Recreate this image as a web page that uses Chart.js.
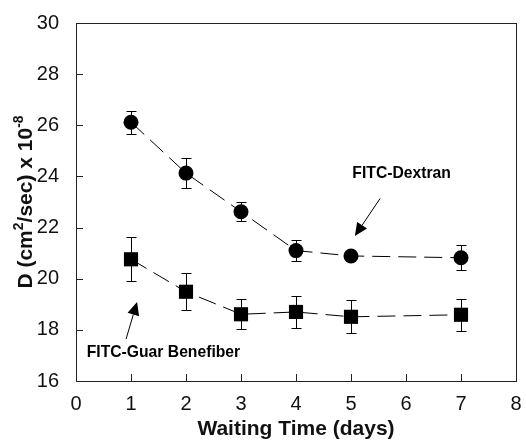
<!DOCTYPE html>
<html>
<head>
<meta charset="utf-8">
<script src="https://cdn.jsdelivr.net/npm/chart.js@4/dist/chart.umd.min.js"></script>
<style>
  html, body { margin: 0; padding: 0; background: #fff; }
  #wrap { width: 526px; height: 440px; }
</style>
</head>
<body>
<div id="wrap"><canvas id="chart" width="526" height="440"></canvas></div>
<script>
// waiting time (days)
var days = [1, 2, 3, 4, 5, 7]
// D values x 10^-8
var dextran = [26.12, 24.13, 22.62, 21.1, 20.89, 20.82]
var dextranErr = [0.45, 0.6, 0.38, 0.4, 0.1, 0.48]
var guar = [20.76, 19.49, 18.61, 18.7, 18.51, 18.59]
var guarErr = [0.86, 0.72, 0.59, 0.63, 0.65, 0.63]

var xTicks = [0, 1, 2, 3, 4, 5, 6, 7, 8]
var yTicks = [16, 18, 20, 22, 24, 26, 28, 30]

// annotation labels and arrows, in data units
var notes = [
    { text: 'FITC-Dextran', x: 5.92, y: 24.09, from: [5.53, 23.14], to: [5.07, 21.67] },
    { text: 'FITC-Guar Benefiber', x: 1.59, y: 17.11, from: [0.91, 17.64], to: [1.11, 19.09] }
]

// y axis title pieces: [text, superscript?]
var yTitle = [['D (cm', false], ['2', true], ['/sec) x 10', false], ['-8', true]]

var FONT = '"Liberation Sans", Arial, Helvetica, sans-serif'

function toPoints(ys) {
    return days.map(function(d, i) { return { x: d, y: ys[i] } })
}

var errs = [dextranErr, guarErr]

var extras = {
    id: 'extras',
    beforeDatasetsDraw: function(chart) {
        var ctx = chart.ctx, xs = chart.scales.x, ys = chart.scales.y
        ctx.save()
        ctx.strokeStyle = '#000'
        ctx.lineWidth = 1
        chart.data.datasets.forEach(function(ds, di) {
            ds.data.forEach(function(p, i) {
                var px = Math.round(xs.getPixelForValue(p.x)) + 0.5
                var top = Math.round(ys.getPixelForValue(p.y + errs[di][i])) + 0.5
                var bot = Math.round(ys.getPixelForValue(p.y - errs[di][i])) + 0.5
                ctx.beginPath()
                ctx.moveTo(px, top); ctx.lineTo(px, bot)
                ctx.moveTo(px - 5, top); ctx.lineTo(px + 5, top)
                ctx.moveTo(px - 5, bot); ctx.lineTo(px + 5, bot)
                ctx.stroke()
            })
        })
        ctx.restore()
    },
    afterDraw: function(chart) {
        var ctx = chart.ctx, xs = chart.scales.x, ys = chart.scales.y
        var a = chart.chartArea
        ctx.save()
        ctx.strokeStyle = '#222'
        ctx.lineWidth = 1
        // frame
        ctx.strokeRect(Math.round(a.left) + 0.5, Math.round(a.top) + 0.5,
            Math.round(a.right - a.left), Math.round(a.bottom - a.top))
        // inside ticks
        ctx.beginPath()
        xTicks.forEach(function(v) {
            if (v == 0 || v == 8) return
            var px = Math.round(xs.getPixelForValue(v)) + 0.5
            ctx.moveTo(px, a.bottom); ctx.lineTo(px, a.bottom - 7)
        })
        yTicks.forEach(function(v) {
            if (v == 16 || v == 30) return
            var py = Math.round(ys.getPixelForValue(v)) + 0.5
            ctx.moveTo(a.left, py); ctx.lineTo(a.left + 7, py)
        })
        ctx.stroke()

        // y axis title with superscripts
        ctx.fillStyle = '#111'
        ctx.textAlign = 'left'
        ctx.textBaseline = 'alphabetic'
        var mainFont = 'bold 21px ' + FONT, supFont = 'bold 14px ' + FONT
        var total = 0
        yTitle.forEach(function(p) {
            ctx.font = p[1] ? supFont : mainFont
            total += ctx.measureText(p[0]).width
        })
        ctx.save()
        ctx.translate(32, (a.top + a.bottom) / 2)
        ctx.rotate(-Math.PI / 2)
        var cx = -total / 2
        yTitle.forEach(function(p) {
            ctx.font = p[1] ? supFont : mainFont
            ctx.fillText(p[0], cx, p[1] ? -9 : 0)
            cx += ctx.measureText(p[0]).width
        })
        ctx.restore()

        // notes
        ctx.fillStyle = '#000'
        ctx.strokeStyle = '#000'
        ctx.font = 'bold 15.7px ' + FONT
        ctx.textAlign = 'center'
        ctx.textBaseline = 'middle'
        notes.forEach(function(n) {
            ctx.fillText(n.text, xs.getPixelForValue(n.x), ys.getPixelForValue(n.y))
            var x1 = xs.getPixelForValue(n.from[0]), y1 = ys.getPixelForValue(n.from[1])
            var x2 = xs.getPixelForValue(n.to[0]), y2 = ys.getPixelForValue(n.to[1])
            var ang = Math.atan2(y2 - y1, x2 - x1)
            var hl = 13, hw = 6
            var bx = x2 - hl * Math.cos(ang), by = y2 - hl * Math.sin(ang)
            ctx.beginPath()
            ctx.moveTo(x1, y1); ctx.lineTo(bx, by)
            ctx.stroke()
            ctx.beginPath()
            ctx.moveTo(x2, y2)
            ctx.lineTo(bx + hw * Math.sin(ang), by - hw * Math.cos(ang))
            ctx.lineTo(bx - hw * Math.sin(ang), by + hw * Math.cos(ang))
            ctx.closePath()
            ctx.fill()
        })
        ctx.restore()
    }
}

var ctx = document.getElementById('chart').getContext('2d')
var chart = new Chart(ctx, {
    type: 'scatter',
    data: {
        datasets: [{
            label: 'FITC-Dextran',
            data: toPoints(dextran),
            showLine: true,
            borderColor: '#000',
            borderWidth: 1,
            borderDash: [18, 8],
            backgroundColor: '#000',
            pointStyle: 'circle',
            pointRadius: 7.5,
            pointBorderWidth: 0
        }, {
            label: 'FITC-Guar Benefiber',
            data: toPoints(guar),
            showLine: true,
            borderColor: '#000',
            borderWidth: 1,
            borderDash: [18, 8],
            backgroundColor: '#000',
            pointStyle: 'rect',
            pointRadius: 10,
            pointBorderWidth: 0
        }]
    },
    options: {
        responsive: false,
        animation: false,
        layout: { padding: { top: 23, right: 6, left: 0, bottom: 0 } },
        plugins: {
            legend: { display: false },
            tooltip: { enabled: false }
        },
        scales: {
            x: {
                type: 'linear',
                min: 0, max: 8,
                afterBuildTicks: function(s) { s.ticks = xTicks.map(function(v) { return { value: v } }) },
                afterFit: function(s) { s.height = 59; s.paddingLeft = 0; s.paddingRight = 0 },
                grid: { display: false },
                border: { display: false },
                ticks: { color: '#111', padding: 3, font: { family: FONT, size: 20 } },
                title: {
                    display: true,
                    text: 'Waiting Time (days)',
                    color: '#111',
                    padding: { top: 0, bottom: 0 },
                    font: { family: FONT, size: 21, weight: 'bold', lineHeight: 1 }
                }
            },
            y: {
                type: 'linear',
                min: 16, max: 30,
                afterBuildTicks: function(s) { s.ticks = yTicks.map(function(v) { return { value: v } }) },
                afterFit: function(s) { s.width = 76; s.paddingTop = 0; s.paddingBottom = 0 },
                grid: { display: false },
                border: { display: false },
                ticks: { color: '#111', padding: 9, font: { family: FONT, size: 20 } }
            }
        }
    },
    plugins: [extras]
})
</script>
</body>
</html>
